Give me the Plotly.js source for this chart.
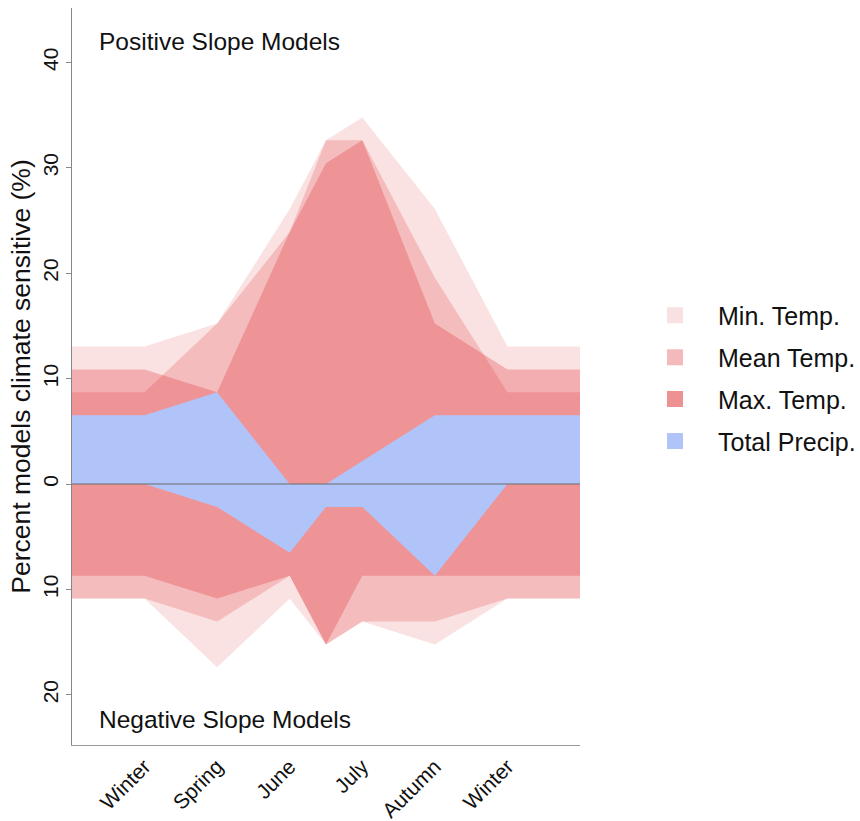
<!DOCTYPE html>
<html>
<head>
<meta charset="utf-8">
<script src="https://cdn.plot.ly/plotly-3.0.1.min.js"></script>
<style>html,body{margin:0;padding:0;background:#fff;}#chart{width:860px;height:821px;}</style>
</head>
<body>
<div id="chart"></div>
<script>
// Category positions along the seasonal axis (a vertex sits midway between June and July)
var xPos = [0, 1, 2, 3, 3.5, 4, 5, 6, 7];
var tickVals = [1, 2, 3, 4, 5, 6];
var tickLabels = ['Winter', 'Spring', 'June', 'July', 'Autumn', 'Winter'];

// Percent of models with a positive slope
var minPos    = [13.04, 13.04, 15.22, 26.09, 32.61, 34.78, 26.09, 13.04, 13.04];
var meanPos   = [8.70, 8.70, 15.22, 23.91, 32.61, 32.61, 19.57, 8.70, 8.70];
var maxPos    = [10.87, 10.87, 8.70, 23.91, 30.43, 32.61, 15.22, 10.87, 10.87];
var precipPos = [6.52, 6.52, 8.70, 0, 0, 2.17, 6.52, 6.52, 6.52];

// Percent of models with a negative slope (drawn below zero)
var minNeg    = [10.87, 10.87, 17.39, 10.87, 15.22, 13.04, 15.22, 10.87, 10.87];
var meanNeg   = [10.87, 10.87, 13.04, 8.70, 15.22, 13.04, 13.04, 10.87, 10.87];
var maxNeg    = [8.70, 8.70, 10.87, 8.70, 15.22, 8.70, 8.70, 8.70, 8.70];
var precipNeg = [0, 0, 2.17, 6.52, 2.17, 2.17, 8.70, 0, 0];

var seriesNames = ['Min. Temp.', 'Mean Temp.', 'Max. Temp.', 'Total Precip.'];
var legendColors = ['#F9E0E1', '#F4BABB', '#EE9192', '#B0C4FA'];
var fillColors = ['rgba(222,50,52,0.146)', 'rgba(222,50,52,0.212)', 'rgba(222,50,52,0.286)', '#B0C4FA'];

var posSets = [minPos, meanPos, maxPos, precipPos];
var negSets = [minNeg, meanNeg, maxNeg, precipNeg];

var traces = [];
for (var i = 0; i < posSets.length; i++) {
  var xs = xPos.slice();
  var ys = posSets[i].slice();
  for (var j = xPos.length - 1; j >= 0; j--) {
    xs.push(xPos[j]);
    ys.push(-negSets[i][j]);
  }
  traces.push({
    type: 'scatter', mode: 'lines', x: xs, y: ys,
    fill: 'toself', fillcolor: fillColors[i],
    line: {width: 0}, hoverinfo: 'skip', showlegend: false
  });
}
for (var k = 0; k < seriesNames.length; k++) {
  traces.push({
    type: 'scatter', mode: 'markers', x: [null], y: [null],
    name: seriesNames[k], legendgroup: 'g' + k,
    marker: {symbol: 'square', size: 16, color: legendColors[k]},
    showlegend: true
  });
}

var yTickVals = [-20, -10, 0, 10, 20, 30, 40];
var yTickText = yTickVals.map(function (v) { return String(Math.abs(v)); });

var font = 'Liberation Sans, Arial, Helvetica, sans-serif';
var layout = {
  width: 860, height: 821,
  margin: {l: 72, r: 280, t: 8, b: 76, autoexpand: false},
  paper_bgcolor: '#fff', plot_bgcolor: '#fff',
  font: {family: font, color: '#111', size: 20},
  showlegend: true,
  legend: {
    x: 1.1024, xanchor: 'left', y: 0.614, yanchor: 'top',
    font: {family: font, size: 25, color: '#111'},
    itemwidth: 76, tracegroupgap: 6.4, bgcolor: 'rgba(0,0,0,0)'
  },
  xaxis: {
    range: [0, 7], tickmode: 'array', tickvals: tickVals, ticktext: tickLabels,
    tickangle: -45, ticks: '', showgrid: false, zeroline: false,
    showline: true, linecolor: '#999', linewidth: 1,
    tickfont: {family: font, size: 21, color: '#111'}
  },
  yaxis: {
    range: [-24.76, 45.16], tickmode: 'array', tickvals: yTickVals, ticktext: yTickText,
    tickangle: -90, ticks: 'outside', ticklen: 5, tickcolor: '#888',
    showgrid: false, zeroline: false, showline: true, linecolor: '#888', linewidth: 1,
    tickfont: {family: font, size: 21, color: '#111'},
    title: {text: 'Percent models climate sensitive (%)', font: {family: font, size: 26.5, color: '#111'}, standoff: 0}
  },
  shapes: [{
    type: 'line', xref: 'paper', x0: 0, x1: 1, yref: 'y', y0: 0, y1: 0,
    line: {color: '#6b6b6b', width: 1}, layer: 'above'
  }],
  annotations: [
    {text: 'Positive Slope Models', xref: 'paper', x: 0.049, xanchor: 'left', yref: 'y', y: 42.0, yanchor: 'middle',
     showarrow: false, font: {family: font, size: 24.5, color: '#111'}},
    {text: 'Negative Slope Models', xref: 'paper', x: 0.049, xanchor: 'left', yref: 'y', y: -22.3, yanchor: 'middle',
     showarrow: false, font: {family: font, size: 24.5, color: '#111'}}
  ]
};

Plotly.newPlot('chart', traces, layout, {displayModeBar: false, staticPlot: true});
</script>
</body>
</html>
